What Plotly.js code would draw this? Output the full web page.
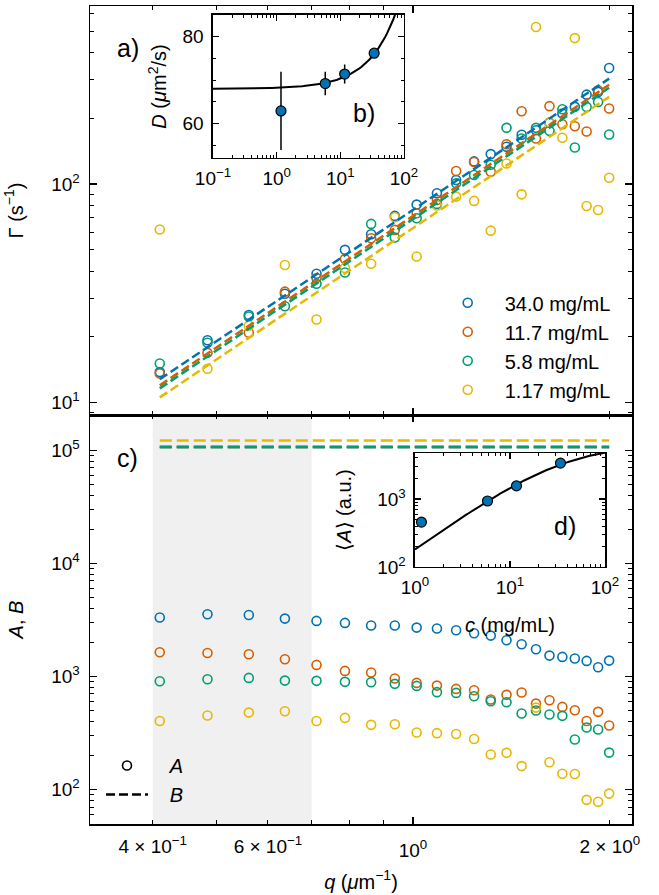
<!DOCTYPE html>
<html><head><meta charset="utf-8">
<script src="https://cdn.plot.ly/plotly-3.0.1.min.js"></script>
<style>html,body{margin:0;padding:0;background:#fff}</style>
</head><body><div id="chart" style="width:659px;height:895px"></div>
<script>
// ---- data ----
const q = [0.41, 0.485, 0.561, 0.637, 0.712, 0.787, 0.863, 0.938, 1.013, 1.088, 1.164, 1.24, 1.315, 1.39, 1.466, 1.542, 1.617, 1.692, 1.768, 1.843, 1.919, 1.995];
const seriesNames = ['34.0 mg/mL', '11.7 mg/mL', '5.8 mg/mL', '1.17 mg/mL'];
const seriesColors = ['#0072B2', '#D55E00', '#009E73', '#E6B800'];
const gamma34 = [13.8, 19.3, 25.2, 31.5, 38.9, 50.0, 58.9, 71.5, 80.5, 90.7, 104.3, 126.9, 137, 148, 167.9, 176, 190.5, 210, 225.3, 256.3, 263.7, 339];
const gamma11 = [13.6, 16.9, 20.9, 32.2, 37.2, 45.4, 56.5, 61.7, 73.5, 84.6, 114.6, 126.0, 113.8, 152, 215, 161.5, 227, 187.7, 183.8, 173.9, 268.3, 221.3];
const gamma58 = [15.1, 18.8, 24.8, 27.6, 35.0, 39.4, 65.7, 56.9, 69.7, 81.1, 100.7, 109.9, 122.5, 180.6, 161.5, 180.6, 175, 219.8, 147, 225, 237.3, 168.4];
const gamma117 = [61.9, 14.3, 22.5, 42.6, 24.0, 41.3, 43.2, 70.5, 46.6, 79.7, 87.6, 83.7, 61.2, 124.2, 89.7, 522, 191.7, 162.7, 464.7, 79.3, 76.1, 106.9];
const A34 = [3316, 3548, 3499, 3248, 3098, 2974, 2817, 2817, 2704, 2651, 2562, 2410, 2297, 2089, 1926, 1740, 1529, 1489, 1439, 1372, 1206, 1381];
const A11 = [1637, 1614, 1572, 1419, 1265, 1119, 1082, 959, 877, 830, 776, 755, 625, 687, 720, 575, 616, 538, 503, 404, 486, 368];
const A58 = [907, 945, 971, 919, 914, 896, 890, 860, 825, 726, 715, 668, 604, 591, 470, 500, 460, 448, 277, 353, 339, 212];
const A117 = [404, 451, 479, 492, 404, 430, 373, 378, 319, 315, 310, 280, 204, 211, 161, 530, 174, 138, 137, 81, 78, 92];
const Bvals = [107000, 107000, 107000, 122000];
// inset b) and d)
const conc = [34.0, 11.7, 5.8, 1.17];
const Dvals = [76.2, 71.4, 69.2, 62.9];
const Derr = [1.0, 2.2, 2.7, 9.0];
const meanA = [3366, 1557, 934, 457];
// fit parameters of the drawn model curves
const DfitD0 = 68.0, DfitK = 0.00346;      // D = D0 (1 + k c)
const AfitA = 186.2, AfitC0 = 34.7;         // <A> = a c / (1 + c / c0)
const shadeQ = [0.4, 0.7];
// tick labels
const qTickVals = [0.4, 0.6, 2];
const qTickText = ['4 × 10<sup>−1</sup>', '6 × 10<sup>−1</sup>', '2 × 10<sup>0</sup>'];

const gammas = [gamma34, gamma11, gamma58, gamma117];
const As = [A34, A11, A58, A117];

const FONT = 'Liberation Sans, Arial, Helvetica, sans-serif';
const NB = '\u00a0';
const traces = [];
for (let i = 0; i < 4; i++) {
  traces.push({x: q, y: gammas[i], xaxis: 'x2', yaxis: 'y2', type: 'scatter', mode: 'markers',
    name: seriesNames[i], legend: 'legend', legendgroup: 'g' + i,
    marker: {symbol: 'circle-open', size: 9, color: seriesColors[i], line: {width: 1.6, color: seriesColors[i]}}});
}
for (let i = 0; i < 4; i++) {
  const D = Dvals[i];
  const qe = [q[0], q[q.length - 1]];
  traces.push({x: qe, y: qe.map(v => D * v * v), xaxis: 'x2', yaxis: 'y2', type: 'scatter', mode: 'lines',
    showlegend: false, line: {color: seriesColors[i], width: 2.5, dash: '9px,4px'}});
}
for (let i = 0; i < 4; i++) {
  traces.push({x: q, y: As[i], xaxis: 'x', yaxis: 'y', type: 'scatter', mode: 'markers', showlegend: false,
    marker: {symbol: 'circle-open', size: 9, color: seriesColors[i], line: {width: 1.6, color: seriesColors[i]}}});
}
for (let i = 0; i < 4; i++) {
  const qe = [q[0], q[q.length - 1]];
  traces.push({x: qe, y: [Bvals[i], Bvals[i]], xaxis: 'x', yaxis: 'y', type: 'scatter', mode: 'lines', showlegend: false,
    line: {color: seriesColors[i], width: 2.5, dash: '12px,5px'}});
}
// legend keys for A and B
traces.push({x: [null], y: [null], xaxis: 'x', yaxis: 'y', type: 'scatter', mode: 'markers', name: NB + NB + NB + '<i>A</i>', legend: 'legend2',
  marker: {symbol: 'circle-open', size: 9, color: 'black', line: {width: 1.6, color: 'black'}}});
traces.push({x: [null], y: [null], xaxis: 'x', yaxis: 'y', type: 'scatter', mode: 'lines', name: NB + NB + NB + '<i>B</i>', legend: 'legend2',
  line: {color: 'black', width: 2.5, dash: '9px,4px'}});
// carrier for the extra tick-label axis
traces.push({x: [null], y: [null], xaxis: 'x5', yaxis: 'y', type: 'scatter', mode: 'markers', showlegend: false, hoverinfo: 'skip'});

// inset b
const cB = [], dB = [];
for (let k = 0; k <= 120; k++) { const c = Math.pow(10, -1 + 3 * k / 120); cB.push(c); dB.push(DfitD0 * (1 + DfitK * c)); }
traces.push({x: cB, y: dB, xaxis: 'x3', yaxis: 'y3', type: 'scatter', mode: 'lines', showlegend: false, line: {color: 'black', width: 2}});
traces.push({x: conc, y: Dvals, xaxis: 'x3', yaxis: 'y3', type: 'scatter', mode: 'markers', showlegend: false,
  error_y: {type: 'data', array: Derr, visible: true, color: 'black', thickness: 1.5, width: 0},
  marker: {size: 10, color: '#0072B2', line: {width: 1.2, color: 'black'}}});
// inset d
const cD = [], aD = [];
for (let k = 0; k <= 100; k++) { const c = Math.pow(10, 2 * k / 100); cD.push(c); aD.push(AfitA * c / (1 + c / AfitC0)); }
traces.push({x: cD, y: aD, xaxis: 'x4', yaxis: 'y4', type: 'scatter', mode: 'lines', showlegend: false, line: {color: 'black', width: 2}});
traces.push({x: conc, y: meanA, xaxis: 'x4', yaxis: 'y4', type: 'scatter', mode: 'markers', showlegend: false,
  marker: {size: 10, color: '#0072B2', line: {width: 1.2, color: 'black'}}});

function decMinors(decs) { const out = []; decs.forEach(d => { for (let m = 2; m <= 9; m++) out.push(m * d); }); return out; }
function ax(extra) {
  return Object.assign({showline: true, linecolor: 'black', linewidth: 1.5, mirror: 'ticks', ticks: 'inside', ticklen: 7,
    tickwidth: 1.2, tickcolor: 'black', showgrid: false, zeroline: false,
    tickfont: {family: FONT, size: 19, color: 'black'}}, extra);
}
const minorStyle = (vals, len) => ({ticks: 'inside', ticklen: len || 4, tickwidth: 1, tickcolor: 'black', tickmode: 'array', tickvals: vals, showgrid: false});
const qMinor = [0.4, 0.5, 0.6, 0.7, 0.8, 0.9, 2];
const qRange = [-0.4939, 0.3349];

function lab(text, x, y) {
  return {text: text, x: x, y: y, xref: 'paper', yref: 'paper', xanchor: 'center', yanchor: 'middle', showarrow: false, font: {size: 25}};
}

const layout = {
  width: 659, height: 895, margin: {l: 90, r: 27, t: 6, b: 71},
  paper_bgcolor: 'white', plot_bgcolor: 'white',
  font: {family: FONT, size: 19, color: 'black'},
  xaxis: ax({type: 'log', domain: [0, 1], anchor: 'y', range: qRange, tickmode: 'array', tickvals: [1], ticktext: ['10<sup>0</sup>'],
    ticklabelstandoff: 9, minor: minorStyle(qMinor),
    title: {text: '<i>q</i> (<i>μ</i>m<sup>−1</sup>)', standoff: 14, font: {size: 20}}}),
  xaxis5: {type: 'log', overlaying: 'x', anchor: 'y', side: 'bottom', range: qRange, showline: false, showgrid: false, zeroline: false, ticks: '',
    ticklabelstandoff: 9, tickmode: 'array', tickvals: qTickVals, ticktext: qTickText, tickfont: {family: FONT, size: 19, color: 'black'}},
  yaxis: ax({type: 'log', domain: [0, 0.5], anchor: 'x', range: [1.695, 5.312], tickmode: 'array',
    tickvals: [100, 1000, 10000, 100000], ticktext: ['10<sup>2</sup>', '10<sup>3</sup>', '10<sup>4</sup>', '10<sup>5</sup>'],
    minor: minorStyle([50, 60, 70, 80, 90].concat(decMinors([100, 1000, 10000]), [200000])), ticklabelstandoff: 5,
    title: {text: '<i>A</i>, <i>B</i>', standoff: 22, font: {size: 20}}}),
  xaxis2: ax({type: 'log', domain: [0, 1], anchor: 'y2', range: qRange, tickmode: 'array', tickvals: [1], showticklabels: false,
    minor: minorStyle(qMinor)}),
  yaxis2: ax({type: 'log', domain: [0.5, 1], anchor: 'x2', range: [0.9438, 2.814], tickmode: 'array',
    tickvals: [10, 100], ticktext: ['10<sup>1</sup>', '10<sup>2</sup>'],
    minor: minorStyle([9, 20, 30, 40, 50, 60, 70, 80, 90, 200, 300, 400, 500, 600]), ticklabelstandoff: 5,
    title: {text: 'Γ (s<sup>−1</sup>)', standoff: 22, font: {size: 20}}}),
  xaxis3: ax({type: 'log', domain: [0.2269, 0.5793], anchor: 'y3', range: [-1, 2], tickmode: 'array', ticklen: 6,
    tickvals: [0.1, 1, 10, 100], ticktext: ['10<sup>−1</sup>', '10<sup>0</sup>', '10<sup>1</sup>', '10<sup>2</sup>'],
    minor: minorStyle(decMinors([0.1, 1, 10]), 3), ticklabelstandoff: 3}),
  yaxis3: ax({type: 'linear', domain: [0.8142, 0.989], anchor: 'x3', range: [52.06, 85], tickmode: 'array', ticklen: 6,
    tickvals: [60, 80], ticktext: ['60', '80'], minor: minorStyle([55, 65, 70, 75], 3), ticklabelstandoff: 4,
    title: {text: '<i>D</i> (<i>μ</i>m<sup>2</sup>/s)', standoff: 10, font: {size: 20}}}),
  xaxis4: ax({type: 'log', domain: [0.5996, 0.9502], anchor: 'y4', range: [0, 2], tickmode: 'array', ticklen: 6,
    tickvals: [1, 10, 100], ticktext: ['10<sup>0</sup>', '10<sup>1</sup>', '10<sup>2</sup>'],
    minor: minorStyle(decMinors([1, 10]), 3), ticklabelstandoff: 3,
    title: {text: '<i>c</i> (mg/mL)', standoff: 20, font: {size: 20}}}),
  yaxis4: ax({type: 'log', domain: [0.3142, 0.4535], anchor: 'x4', range: [2, 3.675], tickmode: 'array', ticklen: 6,
    tickvals: [100, 1000], ticktext: ['10<sup>2</sup>', '10<sup>3</sup>'],
    minor: minorStyle(decMinors([100]).concat([2000, 3000, 4000]), 3), ticklabelstandoff: 4,
    title: {text: '⟨<i>A</i>⟩ (a.u.)', standoff: 20, font: {size: 20}}}),
  shapes: [{type: 'rect', xref: 'x', yref: 'y domain', x0: shadeQ[0], x1: shadeQ[1], y0: 0, y1: 1,
    fillcolor: '#f0f0f0', line: {width: 0}, layer: 'below'}],
  legend: {x: 0.6286, xanchor: 'left', y: 0.661, yanchor: 'top', itemwidth: 64, bgcolor: 'rgba(0,0,0,0)',
    font: {family: FONT, size: 20, color: 'black'}, traceorder: 'normal', tracegroupgap: 0},
  legend2: {x: 0.0203, xanchor: 'left', y: 0.0953, yanchor: 'top', itemwidth: 42, bgcolor: 'rgba(0,0,0,0)',
    font: {family: FONT, size: 20, color: 'black'}},
  annotations: [
    lab('a)', 0.0701, 0.9487),
    lab('b)', 0.5055, 0.8692),
    lab('c)', 0.0683, 0.4474),
    lab('d)', 0.8764, 0.3643)
  ],
  showlegend: true
};
Plotly.newPlot('chart', traces, layout, {displayModeBar: false, staticPlot: true});
</script></body></html>
